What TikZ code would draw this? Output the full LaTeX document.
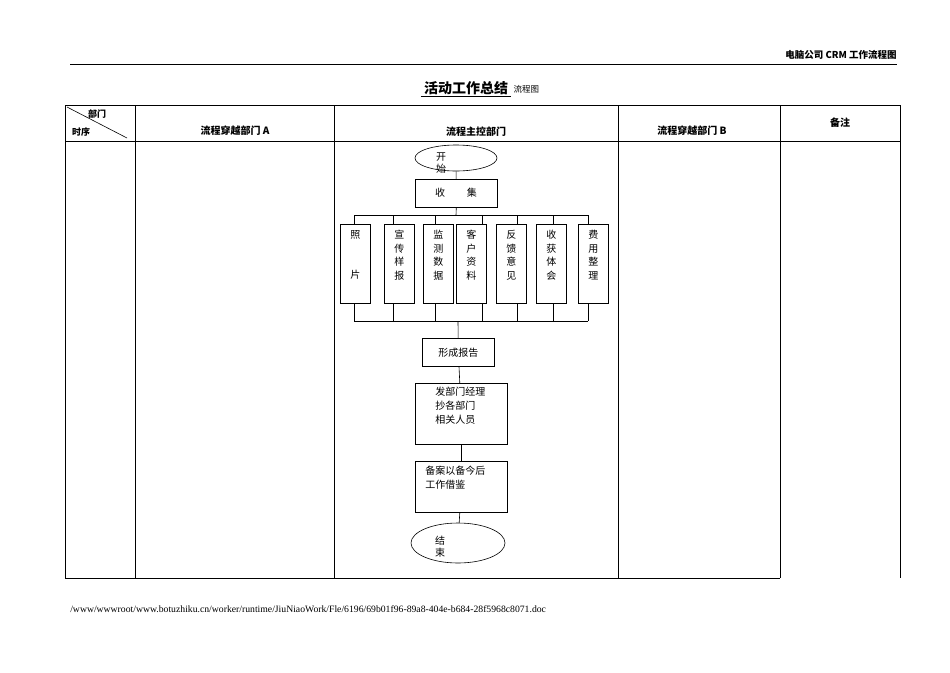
\documentclass[tikz,border=0pt]{standalone}
\usepackage{fontspec}
\setmainfont{Liberation Serif}
\newfontfamily\cjk{Noto Sans CJK SC}
\usetikzlibrary{shapes.geometric}
\begin{document}
\begin{tikzpicture}[x=1pt,y=-1pt,line width=0.6pt]
\tikzset{every node/.style={inner sep=0pt,font=\cjk\fontsize{10}{12}\selectfont},
  box/.style={draw,anchor=north west},
  oval/.style={draw,ellipse}}
\useasboundingbox (0,0) rectangle (950,672);
% header
\node[anchor=east,font=\cjk\bfseries\fontsize{9.5}{11}\selectfont] (hdr) at (897,55) {电脑公司 CRM 工作流程图};
\draw[line width=1pt] (70,64) -- (897,64);
\node[font=\cjk\bfseries\fontsize{14}{16}\selectfont] (ttl) at (466,89) {\underline{\ 活动工作总结\ }};
\node[anchor=west,font=\cjk\fontsize{8.5}{10}\selectfont] (ttl2) at (ttl.east) {\ 流程图};
% table
\draw (65,105) rectangle (900,141);
\draw (65,141) -- (65,578) -- (780,578);
\draw (900,141) -- (900,578);
\foreach \x in {135,334,618,780} \draw (\x,105) -- (\x,578);
\draw (67,107) -- (127,138);
\node[font=\cjk\bfseries\fontsize{9}{11}\selectfont] (bm) at (97,114) {部门};
\node[font=\cjk\bfseries\fontsize{9}{11}\selectfont] (sx) at (81,132) {时序};
\node[font=\cjk\bfseries\fontsize{10}{12}\selectfont] (ca) at (235,131) {流程穿越部门 A};
\node[font=\cjk\bfseries\fontsize{10}{12}\selectfont] (cm) at (476,132) {流程主控部门};
\node[font=\cjk\bfseries\fontsize{10}{12}\selectfont] (cb) at (692,131) {流程穿越部门 B};
\node[font=\cjk\bfseries\fontsize{10}{12}\selectfont] (cn) at (840,123) {备注};
% flow
\node[oval,minimum width=82,minimum height=26] (start) at (456,158) {};
\node[font=\cjk\fontsize{10}{13}\selectfont] at (441,163) {\shortstack{开\\始}};
\node[box,minimum width=82,minimum height=28] (collect) at (415,179) {};
\node at (456,193) {收\hspace{2.2em}集};
\draw (start) -- (collect);
\draw (collect.south) -- (456,215);
\draw (354,215) -- (588,215) (354,321) -- (588,321);
\foreach \x in {354,393,435,482,517,553,588} \draw (\x,215) -- (\x,321);
\foreach \nm/\x in {zp/340,xc/384,jc/423,kh/456,fk/496,sh/536,fy/578}
  \node[box,fill=white,minimum width=30,minimum height=79] (\nm) at (\x,224) {};
\foreach \nm/\t in {zp/{照\\[27pt]片},xc/{宣\\传\\样\\报},jc/{监\\测\\数\\据},kh/{客\\户\\资\\料},fk/{反\\馈\\意\\见},sh/{收\\获\\体\\会},fy/{费\\用\\整\\理}}
  \node[anchor=north,align=center,font=\cjk\fontsize{10}{13.5}\selectfont] at ([yshift=-6]\nm.north) {\t};
\node[box,minimum width=72,minimum height=28] (report) at (422,338) {};
\node at (report) {形成报告};
\draw (458,321) -- (report);
\node[box,minimum width=92,minimum height=61] (send) at (415,383) {};
\node[anchor=north west,align=left,font=\cjk\fontsize{10}{14}\selectfont] at (435,387) {发部门经理\\抄各部门\\相关人员};
\draw (report) -- (send);
\node[box,minimum width=92,minimum height=51] (file) at (415,461) {};
\node[anchor=north west,align=left,font=\cjk\fontsize{10}{14}\selectfont] at (425,466) {备案以备今后\\工作借鉴};
\draw (send) -- (file);
\node[oval,minimum width=94,minimum height=40] (end) at (458,543) {};
\node[font=\cjk\fontsize{10}{13}\selectfont] at (440,547) {\shortstack{结\\束}};
\draw (file) -- (end);
% footer
\node[anchor=west,font=\fontsize{9.7}{11}\selectfont] (path) at (70,609) {/www/wwwroot/www.botuzhiku.cn/worker/runtime/JiuNiaoWork/Fle/6196/69b01f96-89a8-404e-b684-28f5968c8071.doc};
\end{tikzpicture}
\end{document}
